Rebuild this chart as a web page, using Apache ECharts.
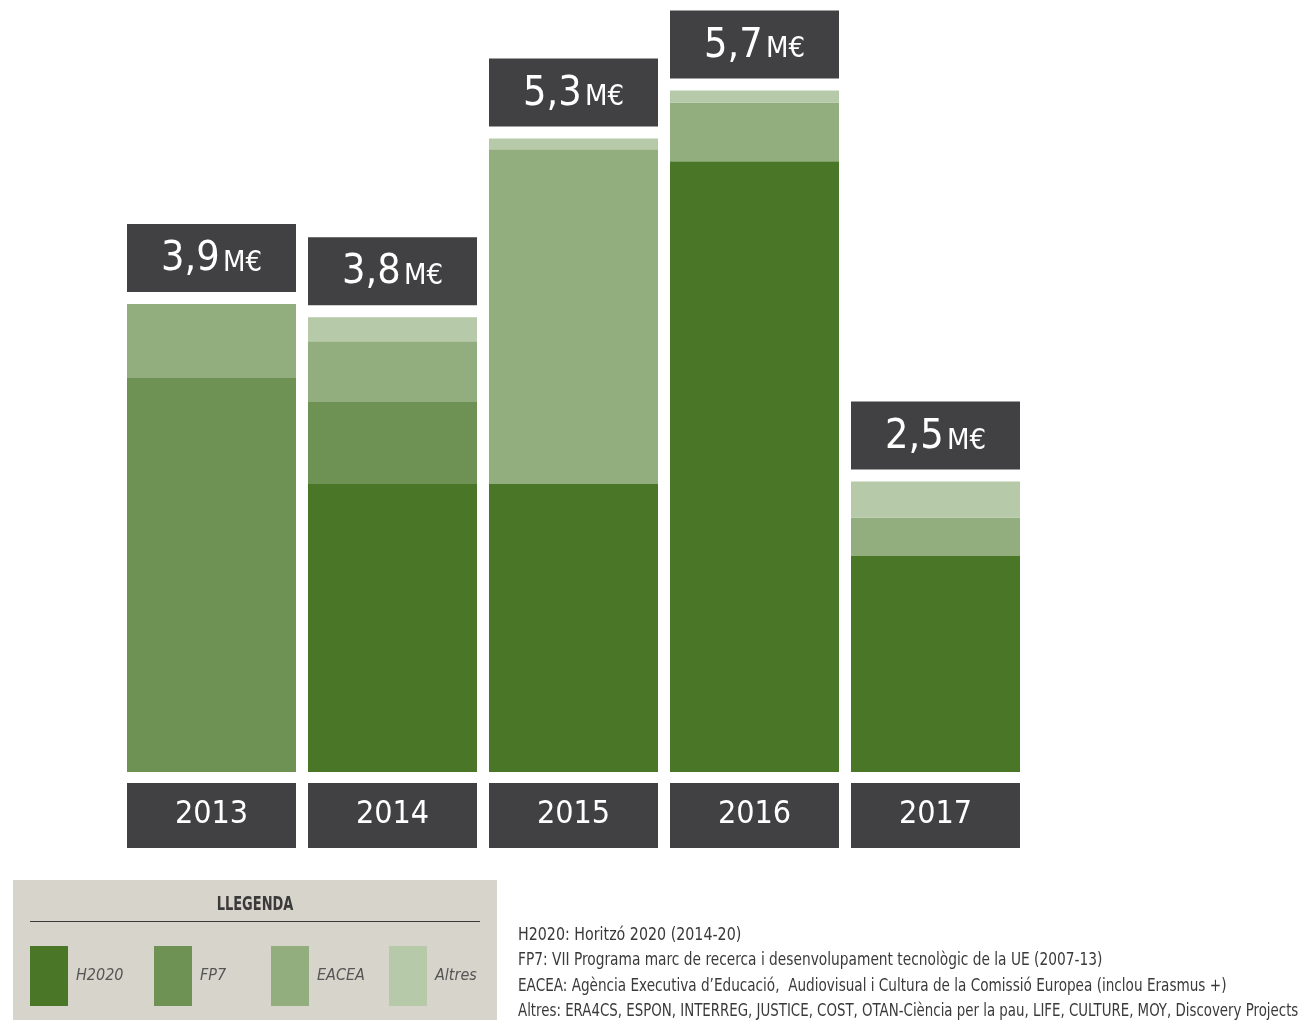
<!DOCTYPE html>
<html>
<head>
<meta charset="utf-8">
<script src="https://cdn.jsdelivr.net/npm/echarts@6/dist/echarts.min.js"></script>
<style>
html,body{margin:0;padding:0;background:#fff;}
#c{width:1310px;height:1020px;}
</style>
</head>
<body>
<div id="c"></div>
<script>
var categories = ['2013', '2014', '2015', '2016', '2017'];
var h2020 = [0, 2.4, 2.4, 5.09, 1.8];
var fp7 = [3.29, 0.69, 0, 0, 0];
var eacea = [0.61, 0.5, 2.79, 0.49, 0.32];
var altres = [0, 0.2, 0.09, 0.1, 0.3];
var totalLabels = ['3,9', '3,8', '5,3', '5,7', '2,5'];
var seriesNames = ['H2020', 'FP7', 'EACEA', 'Altres'];
var footnotes = [
  'H2020: Horitzó 2020 (2014-20)',
  'FP7: VII Programa marc de recerca i desenvolupament tecnològic de la UE (2007-13)',
  'EACEA: Agència Executiva d\u2019Educació,  Audiovisual i Cultura de la Comissió Europea (inclou Erasmus +)',
  'Altres: ERA4CS, ESPON, INTERREG, JUSTICE, COST, OTAN-Ciència per la pau, LIFE, CULTURE, MOY, Discovery Projects'
];

var FONT = "'DejaVu Sans Condensed', 'Liberation Sans', sans-serif";
var colors = ['#4a7628', '#6e9253', '#93ae7e', '#b6c9a8'];
var BOX = '#414042';

var chart = echarts.init(document.getElementById('c'));

function mk(name, data, idx, withLabel) {
  var s = {
    name: name,
    type: 'bar',
    stack: 'total',
    data: data,
    barWidth: 169,
    itemStyle: { color: colors[idx] },
    emphasis: { disabled: true }
  };
  if (withLabel) {
    s.label = {
      show: true,
      position: 'top',
      distance: 12,
      backgroundColor: BOX,
      width: 169,
      padding: [12, 0, 12, 0],
      align: 'center',
      formatter: function (p) { return '{a|' + totalLabels[p.dataIndex] + '} {b|M\u20ac}'; },
      rich: {
        a: { fontFamily: FONT, fontSize: 41, color: '#fff', lineHeight: 44, verticalAlign: 'bottom' },
        b: { fontFamily: FONT, fontSize: 29, color: '#fff', lineHeight: 34, verticalAlign: 'bottom', padding: [0, 0, 2, 0] }
      }
    };
  }
  return s;
}

var graphics = [
  { type: 'rect', z: 0, shape: { x: 13, y: 880, width: 484, height: 140 }, style: { fill: '#d7d4cc' } },
  { type: 'text', z: 1, x: 255, y: 905, scaleX: 0.76, style: { text: 'LLEGENDA', fontFamily: FONT, fontSize: 19, fontWeight: 'bold', fill: '#3a3a3a', textAlign: 'center', textVerticalAlign: 'middle' } },
  { type: 'line', z: 1, shape: { x1: 30, y1: 921.5, x2: 480, y2: 921.5 }, style: { stroke: '#3a3a3a', lineWidth: 1 } }
];
var fy = [935, 960, 986, 1011];
var fscale = [0.88, 0.85, 0.84, 0.825];
footnotes.forEach(function (t, i) {
  graphics.push({ type: 'text', z: 1, x: 518, y: fy[i], scaleX: fscale[i], style: { text: t, fontFamily: FONT, fontSize: 18, fill: '#3a3a3a', textVerticalAlign: 'middle' } });
});

var legendLefts = [30, 154, 271, 389];
var legends = seriesNames.map(function (n, i) {
  return {
    data: [n],
    left: legendLefts[i],
    top: 946,
    padding: 0,
    z: 5,
    icon: 'rect',
    itemWidth: 38,
    itemHeight: 60,
    selectedMode: false,
    textStyle: { fontFamily: FONT, fontSize: 16, fontStyle: 'italic', color: '#555', padding: [0, 0, 0, 3] }
  };
});

chart.setOption({
  animation: false,
  backgroundColor: '#fff',
  grid: { left: 121, width: 905, top: 52, bottom: 248 },
  xAxis: {
    type: 'category',
    data: categories,
    axisLine: { show: false },
    axisTick: { show: false },
    axisLabel: {
      margin: 11,
      backgroundColor: BOX,
      width: 169,
      padding: [12, 0, 13, 0],
      lineHeight: 40,
      align: 'center',
      color: '#fff',
      fontFamily: FONT,
      fontSize: 32
    }
  },
  yAxis: { type: 'value', min: 0, max: 6, show: false, splitLine: { show: false } },
  legend: legends,
  graphic: graphics,
  series: [
    mk('H2020', h2020, 0, false),
    mk('FP7', fp7, 1, false),
    mk('EACEA', eacea, 2, false),
    mk('Altres', altres, 3, true)
  ]
});
</script>
</body>
</html>
